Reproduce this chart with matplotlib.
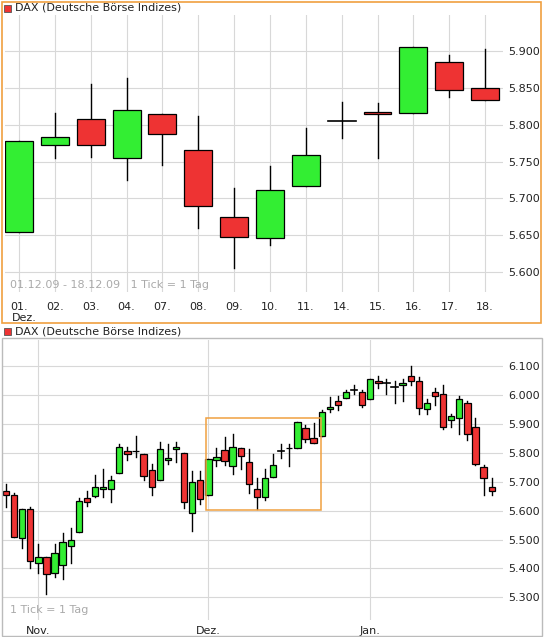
import matplotlib
matplotlib.use("Agg")
import matplotlib.pyplot as plt
from matplotlib.patches import Rectangle

W, H = 553, 637
GREEN = "#33ee33"; RED = "#ee3333"; GRID = "#d8d8d8"; TXT = "#222222"

# Dec 1-18 daily candles (top panel)
dec_labels = ["01.", "02.", "03.", "04.", "07.", "08.", "09.", "10.", "11.", "14.", "15.", "16.", "17.", "18."]
dec_open  = [5654, 5773, 5808, 5755, 5815, 5766, 5675, 5646, 5717, 5805, 5817, 5816, 5885, 5850]
dec_high  = [5778, 5816, 5855, 5863, 5815, 5812, 5714, 5744, 5795, 5831, 5829, 5905, 5895, 5903]
dec_low   = [5654, 5755, 5756, 5725, 5745, 5660, 5605, 5637, 5717, 5782, 5755, 5816, 5838, 5834]
dec_close = [5778, 5784, 5772, 5820, 5787, 5690, 5648, 5711, 5759, 5805, 5815, 5905, 5847, 5834]

# Oct 27 - Nov 30
pre_open  = [5668, 5655, 5505, 5607, 5420, 5440, 5386, 5413, 5476, 5527, 5642, 5650, 5674, 5675, 5731, 5804, 5806, 5797, 5741, 5704, 5776, 5812, 5800, 5593, 5707]
pre_high  = [5690, 5661, 5604, 5613, 5484, 5440, 5484, 5524, 5539, 5642, 5667, 5722, 5743, 5719, 5829, 5818, 5856, 5797, 5760, 5838, 5829, 5838, 5800, 5736, 5736]
pre_low   = [5613, 5507, 5472, 5402, 5386, 5313, 5371, 5362, 5419, 5527, 5616, 5647, 5647, 5630, 5731, 5776, 5785, 5704, 5652, 5704, 5760, 5767, 5609, 5530, 5624]
pre_close = [5652, 5507, 5604, 5425, 5440, 5380, 5455, 5493, 5499, 5634, 5628, 5683, 5680, 5704, 5818, 5794, 5804, 5718, 5680, 5814, 5783, 5818, 5628, 5700, 5641]

# Dec 21 - Jan 22
post_open  = [5856, 5949, 5977, 5987, 6018, 6011, 5984, 6049, 6039, 6027, 6035, 6064, 6046, 5949, 6008, 6004, 5911, 5918, 5973, 5890, 5752, 5680]
post_high  = [5946, 5991, 5997, 6018, 6032, 6015, 6053, 6064, 6053, 6049, 6056, 6100, 6060, 5984, 6022, 6032, 5935, 5997, 5980, 5921, 5756, 5711]
post_low   = [5856, 5942, 5946, 5987, 6004, 5959, 5984, 6022, 6004, 5970, 5980, 6035, 5935, 5935, 5963, 5880, 5890, 5863, 5845, 5758, 5655, 5652]
post_close = [5942, 5956, 5966, 6011, 6018, 5966, 6053, 6039, 6039, 6027, 6042, 6046, 5953, 5973, 5997, 5890, 5928, 5984, 5866, 5761, 5711, 5669]
month_labels = ["Nov.", "Dez.", "Jan."]
month_idx = [4, 25, 45]

all_open = pre_open + dec_open + post_open
all_high = pre_high + dec_high + post_high
all_low = pre_low + dec_low + post_low
all_close = pre_close + dec_close + post_close

fig = plt.figure(figsize=(W/100, H/100), dpi=100)

def ax_px(l, t, r, b):
    return fig.add_axes([l/W, 1-b/H, (r-l)/W, (b-t)/H])

def fmt(v):
    return f"{v/1000:.3f}"

def candles(ax, o, h, l, c, width):
    for i in range(len(o)):
        ax.plot([i, i], [l[i], h[i]], color="black", lw=1, zorder=2)
        if abs(c[i]-o[i]) < 1:
            ax.plot([i-width/2, i+width/2], [o[i], o[i]], color="black", lw=1.2, zorder=3)
        else:
            col = GREEN if c[i] > o[i] else RED
            ax.add_patch(Rectangle((i-width/2, min(o[i], c[i])), width, abs(c[i]-o[i]),
                                   facecolor=col, edgecolor="black", lw=0.9, zorder=3))

def style(ax):
    for s in ax.spines.values():
        s.set_visible(False)
    ax.tick_params(length=0, labelsize=8, colors=TXT)
    ax.yaxis.tick_right()
    ax.grid(True, color=GRID, lw=0.8)
    ax.set_axisbelow(True)

# top panel
fig.add_artist(Rectangle((2/W, 1-323/H), 539/W, 321/H, transform=fig.transFigure,
                         fill=False, edgecolor="#f0a040", lw=1.2))
ax1 = ax_px(5, 15, 503, 292)
candles(ax1, dec_open, dec_high, dec_low, dec_close, 0.78)
ax1.set_xlim(-0.39, 13.5)
ax1.set_ylim(5573, 5949)
yt = [5600, 5650, 5700, 5750, 5800, 5850, 5900]
ax1.set_yticks(yt); ax1.set_yticklabels([fmt(v) for v in yt])
ax1.set_xticks(range(len(dec_labels)))
ax1.set_xticklabels(dec_labels)
style(ax1)
ax1.grid(True, axis="x", color=GRID, lw=0.8)
ax1.tick_params(axis="y", pad=4)
ax1.tick_params(axis="x", pad=7)
fig.text(12/W, 1-318/H, "Dez.", fontsize=8, color=TXT, va="center")
fig.text(10/W, 1-285/H, "01.12.09 - 18.12.09   1 Tick = 1 Tag", fontsize=8, color="#aaaaaa", va="center")
fig.add_artist(Rectangle((4/W, 1-12/H), 7/W, 7/H, transform=fig.transFigure, facecolor=RED, edgecolor="#555555", lw=0.6))
fig.text(15/W, 1-8/H, "DAX (Deutsche Börse Indizes)", fontsize=8, color=TXT, va="center")

# bottom panel
fig.add_artist(Rectangle((2/W, 1-636/H), 540/W, 298/H, transform=fig.transFigure,
                         fill=False, edgecolor="#bbbbbb", lw=1))
ax2 = ax_px(3, 340, 503, 620)
candles(ax2, all_open, all_high, all_low, all_close, 0.78)
ax2.set_xlim(-0.37, 61.4)
ax2.set_ylim(5222, 6189)
yt2 = list(range(5300, 6101, 100))
ax2.set_yticks(yt2); ax2.set_yticklabels([fmt(v) for v in yt2])
ax2.set_xticks(month_idx); ax2.set_xticklabels(month_labels)
style(ax2)
ax2.tick_params(axis="x", pad=4)
ax2.tick_params(axis="y", pad=4)
ax2.add_patch(Rectangle((24.7, min(dec_low)-4), 14.2, max(dec_high)-min(dec_low)+18,
                        fill=False, edgecolor="#f0a040", lw=1.1, zorder=4))
fig.text(10/W, 1-610/H, "1 Tick = 1 Tag", fontsize=8, color="#aaaaaa", va="center")
fig.add_artist(Rectangle((4/W, 1-335/H), 7/W, 7/H, transform=fig.transFigure, facecolor=RED, edgecolor="#555555", lw=0.6))
fig.text(15/W, 1-331/H, "DAX (Deutsche Börse Indizes)", fontsize=8, color=TXT, va="center")

fig.savefig("out.png", dpi=100)
